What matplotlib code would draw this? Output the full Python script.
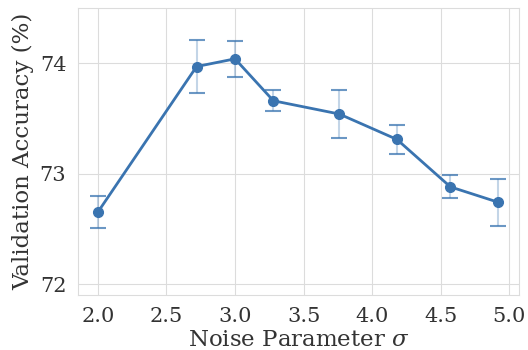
import matplotlib
matplotlib.use("Agg")
import matplotlib.pyplot as plt
import seaborn as sns

# noise sweep results
sigma = [2.0, 2.72, 3.0, 3.28, 3.76, 4.18, 4.57, 4.92]
acc_mean = [72.65, 73.97, 74.04, 73.66, 73.54, 73.31, 72.88, 72.74]
acc_err = [0.145, 0.24, 0.165, 0.095, 0.22, 0.13, 0.105, 0.21]

sns.set_style("whitegrid", {"grid.color": "#dcdcdc", "axes.edgecolor": "#dcdcdc"})
plt.rcParams['font.family'] = ['DejaVu Serif']
plt.rcParams['mathtext.fontset'] = 'dejavuserif'

color = "#3a74b0"

fig, ax = plt.subplots(figsize=(5.28, 3.5), dpi=100)

# error bars: pale stems, stronger caps
eb = ax.errorbar(sigma, acc_mean, yerr=acc_err, fmt='none', ecolor=color,
                 elinewidth=1.5, capsize=6, capthick=1.5, alpha=0.3, zorder=2)
for cap in eb[1]:
    cap.set_alpha(0.75)
ax.plot(sigma, acc_mean, '-o', color=color, lw=2, ms=7, zorder=3)

ax.set_xlim(1.857, 5.07)
ax.set_ylim(71.9, 74.5)
ax.set_yticks([72, 73, 74])
ax.set_xticks([2.0, 2.5, 3.0, 3.5, 4.0, 4.5, 5.0])
ax.tick_params(labelsize=15, colors="#333333", pad=5)
ax.set_xlabel(r"Noise Parameter $\sigma$", fontsize=16.5, color="#333333", labelpad=2)
ax.set_ylabel("Validation Accuracy (%)", fontsize=16.5, color="#333333", labelpad=4)

fig.subplots_adjust(left=0.148, right=0.983, top=0.977, bottom=0.157)
fig.savefig("out.png", dpi=100)
